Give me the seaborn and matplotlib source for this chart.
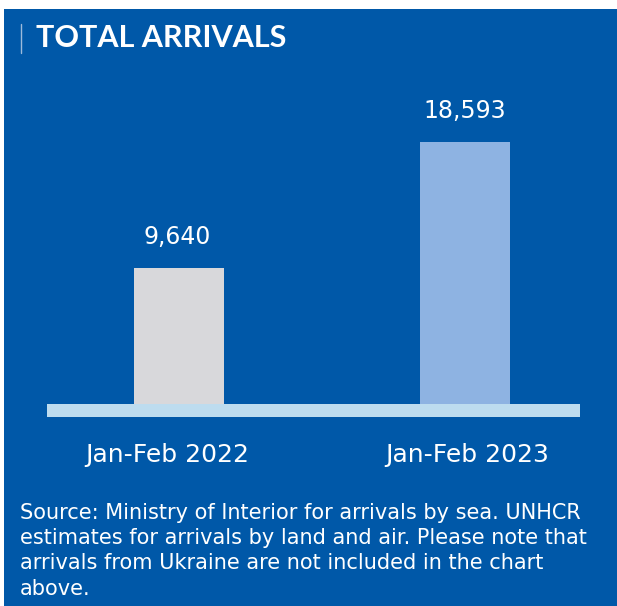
import matplotlib
matplotlib.use("Agg")
import matplotlib.pyplot as plt
import matplotlib.transforms as mtransforms
import seaborn as sns
import pandas as pd
from matplotlib.patches import Rectangle
from matplotlib.lines import Line2D

# ---- data ----
categories = ["Jan-Feb 2022", "Jan-Feb 2023"]
values = [9640, 18593]
value_labels = ["9,640", "18,593"]
title = "TOTAL ARRIVALS"
footnote_lines = [
    "Source: Ministry of Interior for arrivals by sea. UNHCR",
    "estimates for arrivals by land and air. Please note that",
    "arrivals from Ukraine are not included in the chart",
    "above.",
]

BG = "#0058A8"
BAR_COLORS = ["#D8D8DB", "#8EB3E2"]
STRIP = "#BDDCEF"
BODY_FONT = ["DejaVu Sans"]

sns.set_theme(style="white")
plt.rcParams["font.family"] = ["Lato", "DejaVu Sans"]

W, H = 617, 606
fig = plt.figure(figsize=(W / 100, H / 100), dpi=100)
fig.patch.set_facecolor("white")

def fx(px):
    return px / W

def fy(py):
    return (H - py) / H

# blue panel
fig.patches.append(Rectangle((fx(4), 0), 1 - fx(4), fy(9), transform=fig.transFigure,
                             facecolor=BG, edgecolor="none", zorder=-5))

# axes: left 47, right 580, top 100, bottom 416.5 (pixels)
ax = fig.add_axes([fx(47), fy(416.5), fx(580) - fx(47), fy(100) - fy(416.5)])
ax.set_zorder(2)
ax.set_facecolor("none")
ax.patch.set_alpha(0)

df = pd.DataFrame({"period": categories, "arrivals": values})
sns.barplot(data=df, x="period", y="arrivals", hue="period", palette=BAR_COLORS,
            width=0.315, legend=False, ax=ax, saturation=1, edgecolor="none")

units_per_px = 71.07
ax.set_ylim(-12.5 * units_per_px, 304 * units_per_px)
ax.set_xlim(-0.4615, 1.402)
ax.axhspan(-12.5 * units_per_px, 0, color=STRIP, zorder=3, lw=0)

for i, (v, lab) in enumerate(zip(values, value_labels)):
    ax.annotate(lab, xy=(i, v), xytext=(-1.5 if i == 0 else 0, 17.3),
                textcoords="offset points", ha="center", va="baseline",
                color="white", fontsize=17, family=BODY_FONT)

for s in ax.spines.values():
    s.set_visible(False)
ax.set_yticks([])
ax.set_xlabel("")
ax.set_ylabel("")
ax.tick_params(axis="x", length=0, pad=19, labelsize=18, colors="white")
labels = ax.get_xticklabels()
for t in labels:
    t.set_family(BODY_FONT)
# the first category label sits slightly left of its bar in the reference
labels[0].set_transform(labels[0].get_transform() +
                        mtransforms.ScaledTranslation(-12 / 100, 0, fig.dpi_scale_trans))
labels[1].set_transform(labels[1].get_transform() +
                        mtransforms.ScaledTranslation(2 / 100, 0, fig.dpi_scale_trans))

# title and its marker line
fig.text(fx(36), fy(47), title, ha="left", va="baseline", color="white",
         fontsize=22, fontweight="bold")
fig.add_artist(Line2D([fx(21), fx(21)], [fy(24), fy(53)], transform=fig.transFigure,
                      color="#9DBADB", lw=1))

# footnote
baselines = [519, 544, 569, 595]
for line, b in zip(footnote_lines, baselines):
    fig.text(fx(20), fy(b), line, ha="left", va="baseline", color="white",
             fontsize=15, family=BODY_FONT)

fig.savefig("out.png", dpi=100, facecolor=fig.get_facecolor())
